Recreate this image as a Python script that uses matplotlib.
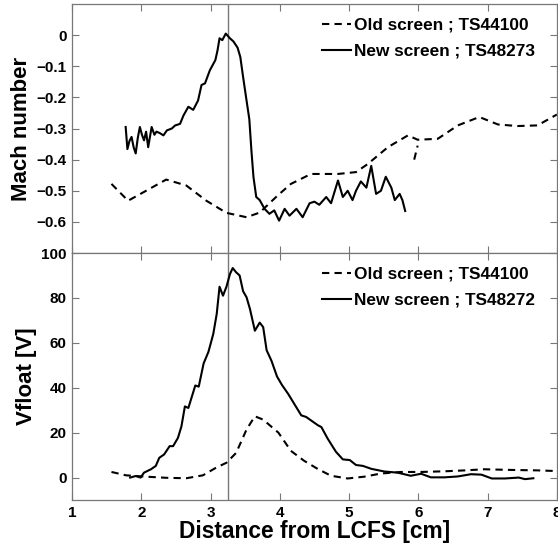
import numpy as np
import matplotlib
matplotlib.use("Agg")
import matplotlib.pyplot as plt

plt.rcParams['font.family'] = ['Liberation Sans', 'DejaVu Sans']
plt.rcParams['font.weight'] = 'bold'

# ---- Mach number (top panel) ----
new_mach_x = [1.775, 1.80, 1.83, 1.86, 1.89, 1.92, 1.95, 1.98, 2.01, 2.04, 2.07, 2.10, 2.15, 2.19,
              2.22, 2.27, 2.32, 2.37, 2.44, 2.49, 2.56, 2.61, 2.68, 2.75, 2.82, 2.87, 2.92, 2.99,
              3.07, 3.10, 3.13, 3.17, 3.22, 3.28, 3.33, 3.39, 3.43, 3.47, 3.52, 3.56, 3.59, 3.62,
              3.66, 3.71, 3.78, 3.85, 3.92, 3.99, 4.07, 4.14, 4.24, 4.33, 4.43, 4.50, 4.57, 4.67,
              4.74, 4.84, 4.91, 4.98, 5.05, 5.10, 5.17, 5.25, 5.32, 5.39, 5.46, 5.53, 5.61, 5.66,
              5.73, 5.77, 5.81]
new_mach_y = [-0.295, -0.366, -0.34, -0.327, -0.36, -0.38, -0.33, -0.295, -0.32, -0.338, -0.31,
              -0.36, -0.295, -0.32, -0.31, -0.315, -0.322, -0.306, -0.30, -0.29, -0.285, -0.258,
              -0.23, -0.24, -0.21, -0.16, -0.155, -0.113, -0.08, -0.05, -0.01, -0.016, 0.005,
              -0.01, -0.02, -0.04, -0.07, -0.134, -0.21, -0.27, -0.37, -0.456, -0.52, -0.53,
              -0.558, -0.574, -0.563, -0.596, -0.558, -0.58, -0.558, -0.585, -0.54, -0.535, -0.545,
              -0.52, -0.54, -0.467, -0.52, -0.50, -0.53, -0.50, -0.47, -0.49, -0.42, -0.51, -0.50,
              -0.455, -0.49, -0.53, -0.51, -0.53, -0.565]

old_mach_x = [1.57, 1.81, 2.07, 2.36, 2.65, 2.94, 3.23, 3.52, 3.71, 3.97, 4.16, 4.45, 4.84,
              5.10, 5.27, 5.56, 5.85, 5.99, 6.28, 6.57, 6.88, 7.15, 7.43, 7.72, 8.0]
old_mach_y = [-0.478, -0.532, -0.50, -0.464, -0.483, -0.532, -0.571, -0.585, -0.57, -0.515,
              -0.478, -0.446, -0.446, -0.44, -0.414, -0.36, -0.322, -0.336, -0.333, -0.290,
              -0.263, -0.287, -0.292, -0.29, -0.255]
# short stray fragment of the old-screen trace
old_mach_frag_x = [5.94, 5.99]
old_mach_frag_y = [-0.40, -0.355]

# ---- Vfloat (bottom panel) ----
new_vf_x = [1.84, 1.92, 1.99, 2.04, 2.14, 2.21, 2.26, 2.33, 2.41, 2.46, 2.53, 2.58, 2.63, 2.68,
            2.73, 2.78, 2.83, 2.90, 2.97, 3.04, 3.09, 3.13, 3.18, 3.23, 3.28, 3.32, 3.37, 3.42,
            3.47, 3.52, 3.57, 3.64, 3.71, 3.76, 3.81, 3.88, 3.96, 4.03, 4.12, 4.31, 4.38, 4.55,
            4.60, 4.69, 4.81, 4.91, 5.01, 5.10, 5.20, 5.32, 5.51, 5.70, 5.89, 6.04, 6.18, 6.38,
            6.57, 6.76, 6.91, 7.06, 7.25, 7.45, 7.54, 7.66]
new_vf_y = [0, 0.7, 0, 2.2, 3.7, 5.2, 8.8, 10.3, 14, 14, 17.7, 22.8, 31.7, 31, 36, 41, 40.5,
            50.8, 56, 64, 73, 85, 81, 85, 90.6, 93.3, 91.4, 90, 83, 80.3, 75, 65.4, 69, 67,
            56.7, 52, 45, 41.3, 37.3, 27.7, 27, 23.3, 22.5, 17.4, 11.5, 8.1, 7.8, 5.6, 5.2, 3.9,
            2.7, 2.2, 0.8, 1.7, 0.1, 0.1, 0.5, 1.5, 1.3, -0.4, -0.4, 0, -0.7, -0.3]

old_vf_x = [1.57, 1.78, 2.07, 2.36, 2.65, 2.89, 3.08, 3.23, 3.37, 3.52, 3.64, 3.76, 3.90, 3.98,
            4.16, 4.35, 4.55, 4.74, 4.98, 5.22, 5.46, 5.75, 6.04, 6.38, 6.67, 6.95, 7.34, 7.72, 8.0]
old_vf_y = [2.5, 1, 0.4, -0.1, -0.3, 1, 4.4, 6.6, 11, 21.4, 27.3, 25.8, 22.1, 20, 11.9, 7.5,
            3.8, 0.8, -0.4, 0.4, 1.8, 2.5, 2.5, 2.8, 3.2, 3.7, 3.4, 3.2, 2.9]

x_marker = 3.25
xticks = [1, 2, 3, 4, 5, 6, 7, 8]
mach_ticks = [0, -0.1, -0.2, -0.3, -0.4, -0.5, -0.6]
vf_ticks = [0, 20, 40, 60, 80, 100]

fig = plt.figure(figsize=(5.58, 5.46), dpi=100)
ax1 = fig.add_axes([0.129, 0.5366, 0.869, 0.456])
ax2 = fig.add_axes([0.129, 0.0842, 0.869, 0.4524])

spine_col = '#777777'
for ax in (ax1, ax2):
    ax.axvline(x_marker, color='#777777', lw=1.0, zorder=1)
    ax.set_xlim(1, 8)
    ax.set_xticks(xticks)
    ax.tick_params(direction='in', top=True, right=True, length=5, width=0.8,
                   color=spine_col, labelsize=11, pad=4)
    for s in ax.spines.values():
        s.set_color(spine_col)
        s.set_linewidth(0.9)

leg_kw = dict(loc='upper right', frameon=False, handlelength=1.7, handletextpad=0.15,
              borderaxespad=0, labelspacing=0.62, bbox_to_anchor=(0.969, 0.972),
              prop={'weight': 'bold', 'size': 12.4})

# top panel
ax1.plot(old_mach_x, old_mach_y, 'k--', lw=1.5, dashes=(3.5, 2.5), label='Old screen ; TS44100')
ax1.plot(old_mach_frag_x, old_mach_frag_y, 'k--', lw=1.5, dashes=(3.5, 2.5))
ax1.plot(new_mach_x, new_mach_y, 'k-', lw=1.5, label='New screen ; TS48273')
ax1.set_ylim(-0.7, 0.1)
ax1.set_yticks(mach_ticks)
ax1.set_yticklabels(['0', '\u22120.1', '\u22120.2', '\u22120.3', '\u22120.4', '\u22120.5', '\u22120.6'],
                    fontweight='bold')
ax1.set_xticklabels([])
ax1.set_ylabel('Mach number', fontsize=16, fontweight='bold', labelpad=3)
ax1.legend(**leg_kw)

# bottom panel
ax2.plot(old_vf_x, old_vf_y, 'k--', lw=1.5, dashes=(3.5, 2.5), label='Old screen ; TS44100')
ax2.plot(new_vf_x, new_vf_y, 'k-', lw=1.5, label='New screen ; TS48272')
ax2.set_ylim(-10, 100)
ax2.set_yticks(vf_ticks)
ax2.set_yticklabels([str(v) for v in vf_ticks], fontweight='bold')
ax2.set_xticklabels([str(v) for v in xticks], fontweight='bold')
ax2.set_ylabel('Vfloat [V]', fontsize=16, fontweight='bold', labelpad=3)
ax2.set_xlabel('Distance from LCFS [cm]', fontsize=16.4, fontweight='bold', labelpad=0)
ax2.legend(**leg_kw)

fig.savefig('out.png', dpi=100)
